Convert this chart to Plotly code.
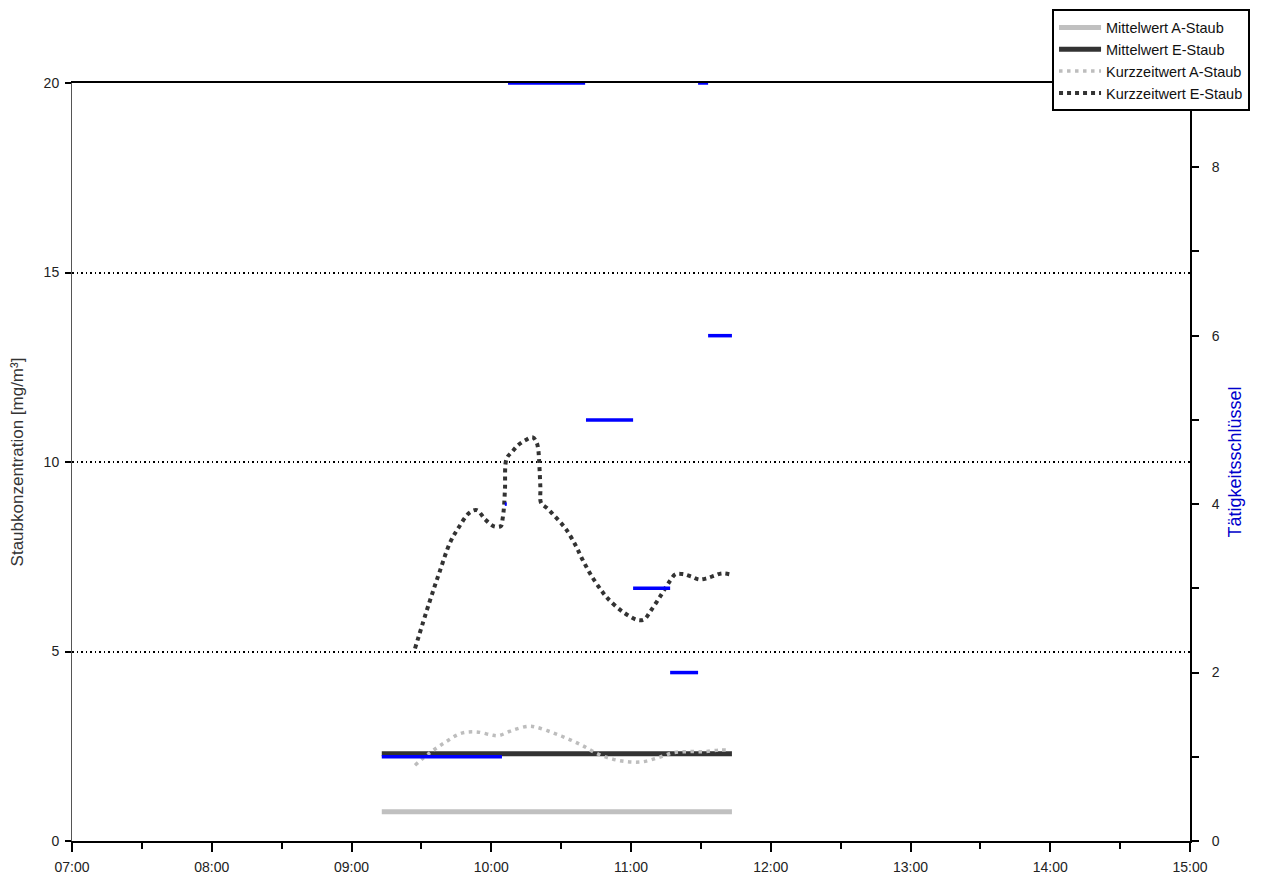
import plotly.graph_objects as go

DAY = "2024-01-01 "

# Mittelwerte (constant over the measurement period)
mean_times = ["09:13:00", "11:43:20"]
mean_a_staub = 0.77
mean_e_staub = 2.30

# Kurzzeitwert A-Staub
kz_a_times = ["09:27:16", "09:33:42", "09:40:36", "09:47:00", "09:53:30", "09:59:54",
              "10:03:00", "10:09:30", "10:16:18", "10:19:30", "10:25:54", "10:32:24",
              "10:38:48", "10:45:18", "10:52:06", "10:58:36", "11:05:00", "11:11:42",
              "11:18:12", "11:24:36", "11:31:30", "11:37:54", "11:41:06"]
kz_a_values = [2.00, 2.33, 2.62, 2.84, 2.88, 2.80,
               2.78, 2.93, 3.03, 3.00, 2.87, 2.71,
               2.53, 2.31, 2.16, 2.09, 2.09, 2.20,
               2.33, 2.36, 2.36, 2.40, 2.40]

# Kurzzeitwert E-Staub
kz_e_times = ["09:27:16", "09:33:24", "09:37:42", "09:42:18", "09:45:54", "09:50:36",
              "09:53:48", "09:57:18", "10:00:54", "10:04:06", "10:04:54", "10:05:30",
              "10:05:54", "10:06:36", "10:09:00", "10:11:36", "10:14:48", "10:17:48",
              "10:19:30", "10:20:12", "10:20:30", "10:21:06", "10:21:24", "10:24:12",
              "10:27:06", "10:29:48", "10:32:24", "10:36:18", "10:39:18", "10:43:06",
              "10:47:24", "10:50:00", "10:56:24", "11:02:54", "11:05:42", "11:08:12",
              "11:12:24", "11:16:42", "11:19:12", "11:22:30", "11:26:06", "11:29:18",
              "11:32:30", "11:35:48", "11:38:54", "11:42:12"]
kz_e_values = [5.08, 6.29, 7.08, 7.87, 8.26, 8.66,
               8.73, 8.49, 8.31, 8.31, 8.51, 8.84,
               9.30, 10.09, 10.27, 10.45, 10.58, 10.65,
               10.51, 10.32, 10.09, 9.32, 8.92, 8.77,
               8.58, 8.40, 8.20, 7.79, 7.41, 6.99,
               6.60, 6.40, 6.05, 5.83, 5.85, 6.05,
               6.44, 6.86, 7.04, 7.04, 6.97, 6.90,
               6.93, 7.00, 7.06, 7.04]

# Tätigkeitsschlüssel (activity code segments)
act_start = ["09:13:00", "10:05:50", "10:07:12", "10:40:40", "11:00:54", "11:16:48", "11:28:48", "11:33:06"]
act_end   = ["10:04:36", "10:06:40", "10:40:18", "11:00:54", "11:16:48", "11:28:48", "11:33:06", "11:43:20"]
act_code  = [1, 4, 9, 5, 3, 2, 9, 6]

# Axis ticks
x_range = ["07:00:00", "15:00:00"]
y_left_ticks = [0, 5, 10, 15, 20]
y_right_ticks = [0, 2, 4, 6, 8]

FONT = "Arial, Liberation Sans, sans-serif"

fig = go.Figure()

fig.add_trace(go.Scatter(
    x=[DAY + t for t in mean_times], y=[mean_a_staub] * len(mean_times),
    mode="lines", name="Mittelwert A-Staub",
    line=dict(color="#c0c0c0", width=5)))
fig.add_trace(go.Scatter(
    x=[DAY + t for t in mean_times], y=[mean_e_staub] * len(mean_times),
    mode="lines", name="Mittelwert E-Staub",
    line=dict(color="#333333", width=5)))
fig.add_trace(go.Scatter(
    x=[DAY + t for t in kz_a_times], y=kz_a_values,
    mode="lines", name="Kurzzeitwert A-Staub", line_shape="spline",
    line=dict(color="#bdbdbd", width=3.5, dash="3.5px,4.5px")))
fig.add_trace(go.Scatter(
    x=[DAY + t for t in kz_e_times], y=kz_e_values,
    mode="lines", name="Kurzzeitwert E-Staub", line_shape="spline",
    line=dict(color="#333333", width=4, dash="4px,4px")))

ax, ay = [], []
for s, e, c in zip(act_start, act_end, act_code):
    ax += [DAY + s, DAY + e, None]
    ay += [c, c, None]
fig.add_trace(go.Scatter(
    x=ax, y=ay, yaxis="y2", mode="lines", showlegend=False,
    name="Tätigkeitsschlüssel", line=dict(color="#0000ff", width=3.5)))

# the page body has an 8px margin, so the figure is 8px smaller than the window
fig.update_layout(
    width=1257, height=869,
    paper_bgcolor="white", plot_bgcolor="white",
    margin=dict(l=64, r=75, t=75, b=36, autoexpand=False),
    font=dict(family=FONT, size=13.5, color="#222222"),
    xaxis=dict(
        type="date", range=[DAY + x_range[0], DAY + x_range[1]],
        dtick=3600000, tickformat="%H:%M",
        showgrid=False, zeroline=False, automargin=False,
        showline=True, linecolor="black", linewidth=2, mirror=True,
        ticks="outside", ticklen=9, tickwidth=2, tickcolor="black",
        ticklabelstandoff=3,
        minor=dict(dtick=1800000, ticks="outside", ticklen=6, tickwidth=2, tickcolor="black"),
        tickfont=dict(size=14)),
    yaxis=dict(
        range=[0, 20], tickvals=y_left_ticks, automargin=False,
        showgrid=True, gridcolor="black", gridwidth=1.5, griddash="1.5px,3px",
        zeroline=False, showline=True, linecolor="#555555", linewidth=1,
        ticks="outside", ticklen=6, tickwidth=1.5, tickcolor="black",
        ticklabelstandoff=3,
        title=dict(text="Staubkonzentration [mg/m³]", font=dict(size=17, color="#333333"), standoff=20),
        tickfont=dict(size=14)),
    yaxis2=dict(
        overlaying="y", side="right", range=[0, 9], tickvals=y_right_ticks, automargin=False,
        showgrid=False, zeroline=False,
        showline=True, linecolor="black", linewidth=2,
        ticks="outside", ticklen=7, tickwidth=2, tickcolor="black",
        ticklabelstandoff=10,
        minor=dict(dtick=1, ticks="outside", ticklen=7, tickwidth=2, tickcolor="black"),
        title=dict(text="Tätigkeitsschlüssel", font=dict(size=18, color="#0000cc"), standoff=10),
        tickfont=dict(size=14)),
    legend=dict(
        x=0.8766, y=1.097, xanchor="left", yanchor="top",
        bgcolor="white", bordercolor="black", borderwidth=2,
        font=dict(size=14.5, color="#111111"),
        tracegroupgap=0, itemwidth=42),
    showlegend=True,
)

fig.write_html("out.html")
